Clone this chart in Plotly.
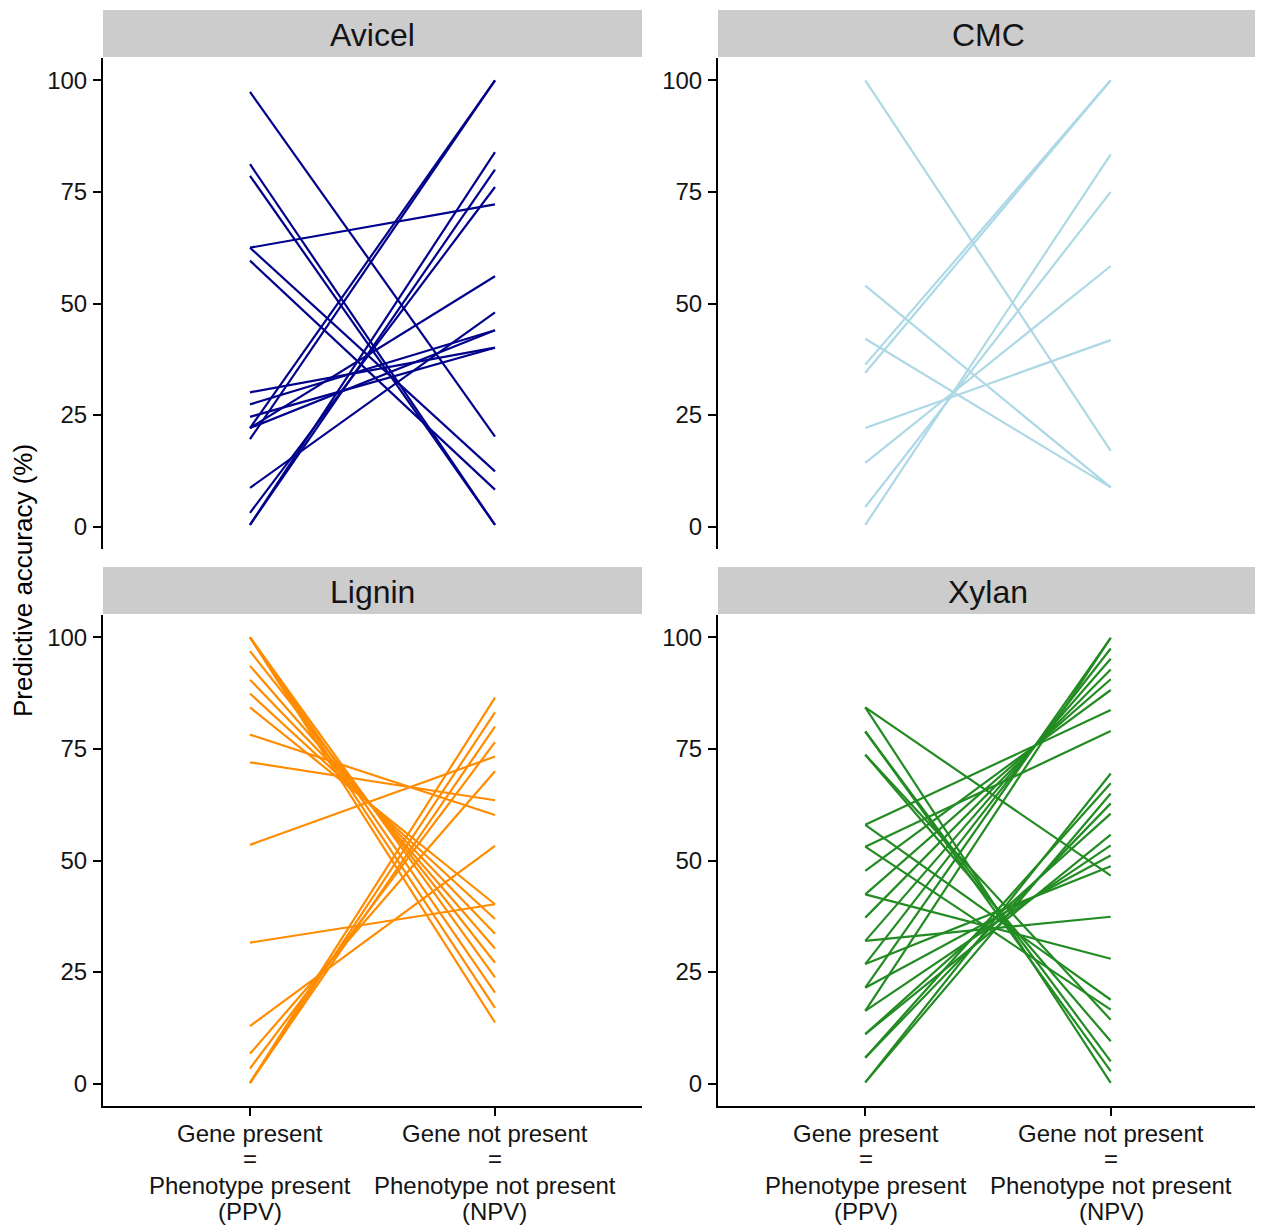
import plotly.graph_objects as go

# ---- data (PPV at left, NPV at right) ----
avicel_ppv = [97.4, 81.2, 78.6, 62.5, 62.5, 59.6, 22.1, 19.6, 0.4, 0.4, 3.1, 22.1, 8.7, 27.4, 22.1, 30.1, 24.6]
avicel_npv = [20.2, 0.4, 0.4, 12.4, 72.2, 8.3, 100.0, 100.0, 83.9, 80.0, 76.1, 56.1, 48.0, 44.0, 44.0, 40.1, 40.1]

cmc_ppv = [100.0, 54.0, 42.1, 36.3, 34.5, 22.1, 14.3, 4.4, 0.4]
cmc_npv = [17.0, 8.8, 8.8, 100.0, 100.0, 41.8, 58.4, 75.0, 83.4]

lignin_ppv = [100.0, 100.0, 100.0, 100.0, 96.9, 93.6, 90.5, 87.4, 84.3,
              78.2, 72.0, 53.5, 31.6, 12.9, 0.2, 0.2, 0.2, 3.4, 6.7]
lignin_npv = [13.7, 17.0, 20.4, 23.8, 27.1, 30.3, 33.6, 36.9, 40.2,
              60.2, 63.5, 73.3, 40.2, 53.3, 86.5, 83.2, 80.0, 76.5, 70.0]

xylan_ppv = [84.3, 84.3, 78.9, 78.9, 73.7, 73.7, 58.0, 53.1, 42.4, 32.0,
             58.0, 53.1, 47.7, 42.4, 37.2, 32.0, 26.8, 21.5, 16.3,
             0.3, 0.3, 5.8, 5.8, 11.1, 11.1, 16.3, 21.5, 26.8]
xylan_npv = [46.6, 0.2, 2.8, 5.0, 9.5, 14.3, 18.8, 16.6, 28.0, 37.4,
             83.7, 79.0, 88.2, 90.6, 92.8, 95.2, 97.5, 99.9, 99.9,
             69.5, 65.0, 67.3, 62.8, 60.5, 55.8, 53.4, 51.1, 48.7]

panels = ["Avicel", "CMC", "Lignin", "Xylan"]
colors = ["#00008B", "#ADD8E6", "#FF8C00", "#228B22"]
data = [(avicel_ppv, avicel_npv), (cmc_ppv, cmc_npv), (lignin_ppv, lignin_npv), (xylan_ppv, xylan_npv)]
x_categories = [1, 2]
x_label_lines = [["Gene present", "=", "Phenotype present", "(PPV)"],
                 ["Gene not present", "=", "Phenotype not present", "(NPV)"]]
y_ticks = [0, 25, 50, 75, 100]

OFF = 8  # default page body margin
W, H = 1263 - OFF, 1225 - OFF
FONT = "Arial, Liberation Sans, sans-serif"
TXT = "#141414"


def px(x):
    return (x - OFF) / W


def py(y):
    return 1 - (y - OFF) / H


# panel pixel boxes in screen coords
xd = [(103, 642), (718, 1258)]
yd = [(58, 549), (615, 1106)]
tick_x = [(250, 495), (866, 1111)]
label_rows_y = [1133, 1158, 1185, 1211]

fig = go.Figure()
for i, name in enumerate(panels):
    r, c = divmod(i, 2)
    ax = "" if i == 0 else str(i + 1)
    ppv, npv = data[i]
    xs, ys = [], []
    for a, b in zip(ppv, npv):
        xs += [x_categories[0], x_categories[1], None]
        ys += [a, b, None]
    fig.add_trace(go.Scatter(x=xs, y=ys, mode="lines",
                             line=dict(color=colors[i], width=2.2),
                             xaxis="x" + ax, yaxis="y" + ax,
                             showlegend=False, hoverinfo="skip"))
    x0, x1 = xd[c]
    yt, yb = yd[r]
    bottom = (r == 1)
    fig.layout["xaxis" + ax] = dict(
        domain=[px(x0), px(x1)], range=[0.4, 2.6], anchor="y" + ax,
        tickvals=x_categories, ticktext=["", ""],
        showticklabels=False, showline=bottom, ticks="outside" if bottom else "",
        ticklen=8, tickwidth=2, tickcolor="black", linecolor="black", linewidth=2,
        showgrid=False, zeroline=False)
    fig.layout["yaxis" + ax] = dict(
        domain=[py(yb), py(yt)], range=[-5, 105], anchor="x" + ax,
        tickvals=y_ticks, ticks="outside", ticklen=8, tickwidth=2, tickcolor="black",
        showline=True, linecolor="black", linewidth=2, ticklabelstandoff=1,
        showgrid=False, zeroline=False,
        tickfont=dict(family=FONT, size=24, color=TXT))
    # strip
    fig.add_shape(type="rect", xref="paper", yref="paper",
                  x0=px(x0), x1=px(x1), y0=py(yt - 1), y1=py(yt - 48),
                  fillcolor="#CCCCCC", line=dict(width=0), layer="below")
    fig.add_annotation(text=name, xref="paper", yref="paper",
                       x=px((x0 + x1) / 2), y=py(yt - 23),
                       showarrow=False, xanchor="center", yanchor="middle",
                       font=dict(family=FONT, size=32, color=TXT))
    # x tick labels (multi-line) for bottom panels
    if bottom:
        for k, lines in enumerate(x_label_lines):
            for ly, txt in zip(label_rows_y, lines):
                fig.add_annotation(text=txt, xref="paper", yref="paper",
                                   x=px(tick_x[c][k]), y=py(ly),
                                   showarrow=False, xanchor="center", yanchor="middle",
                                   font=dict(family=FONT, size=24, color=TXT))

fig.add_annotation(text="Predictive accuracy (%)", xref="paper", yref="paper",
                   x=px(23), y=py(581), textangle=-90, showarrow=False,
                   xanchor="center", yanchor="middle",
                   font=dict(family=FONT, size=26, color="black"))

fig.update_layout(width=W, height=H, margin=dict(l=0, r=0, t=0, b=0),
                  plot_bgcolor="white", paper_bgcolor="white")
fig.write_html("out.html")
